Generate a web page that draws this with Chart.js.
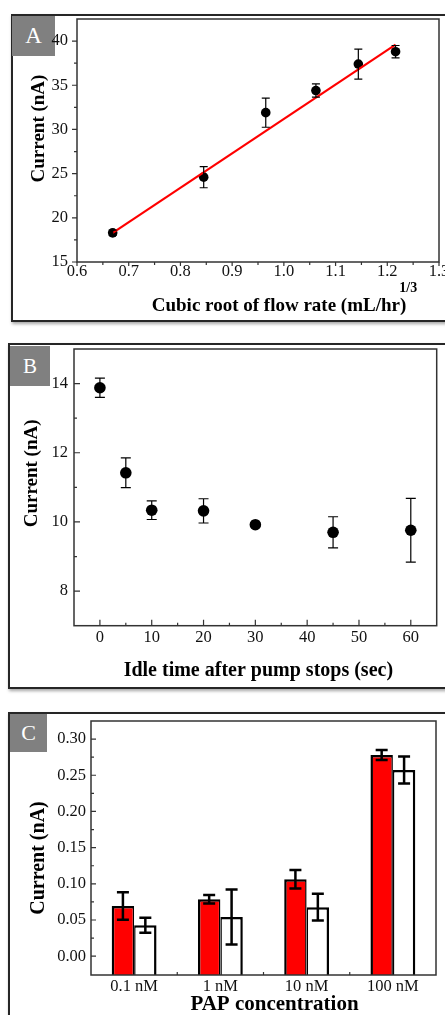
<!DOCTYPE html>
<html><head><meta charset="utf-8">
<script src="https://cdn.jsdelivr.net/npm/chart.js@4.4.1/dist/chart.umd.min.js"></script>
<style>
html,body{margin:0;padding:0;background:#fff;width:445px;height:1015px;overflow:hidden;position:relative;font-family:'Liberation Serif',serif;}
.frame{position:absolute;border:2px solid #262626;box-shadow:1px 2px 3px rgba(0,0,0,0.35);box-sizing:border-box;}
.tag{position:absolute;background:#808080;color:#fff;font-family:'Liberation Serif',serif;display:flex;align-items:center;justify-content:center;}
canvas{position:absolute;left:0;}
</style></head><body>
<div class="frame" style="left:11px;top:14px;width:450px;height:308px"></div>
<div class="frame" style="left:8px;top:343px;width:450px;height:346px"></div>
<div class="frame" style="left:8px;top:712px;width:450px;height:400px"></div>
<div class="tag" style="left:12px;top:16px;width:43px;height:40px;font-size:23px">A</div>
<div class="tag" style="left:10px;top:346px;width:40px;height:40px;font-size:21px">B</div>
<div class="tag" style="left:10px;top:714px;width:37px;height:38px;font-size:22px">C</div>
<canvas id="ca" width="445" height="325" style="top:0px"></canvas>
<canvas id="cb" width="445" height="360" style="top:330px"></canvas>
<canvas id="cc" width="445" height="315" style="top:700px"></canvas>
<script>
// ---------- Panel A data ----------
const flowRoot = [0.669, 0.845, 0.965, 1.062, 1.144, 1.216];
const flowCurrent = [18.3, 24.6, 31.9, 34.4, 37.4, 38.8];
const flowError = [0.3, 1.2, 1.65, 0.75, 1.7, 0.7];
const fitRoot = [0.669, 1.216];
const fitCurrent = [18.3, 39.6];
const flowTicks = [0.6, 0.7, 0.8, 0.9, 1.0, 1.1, 1.2, 1.3];
const flowCurrentTicks = [15, 20, 25, 30, 35, 40];

// ---------- Panel B data ----------
const idleTime = [0, 5, 10, 20, 30, 45, 60];
const idleCurrent = [13.88, 11.42, 10.34, 10.32, 9.92, 9.70, 9.76];
const idleError = [0.28, 0.43, 0.27, 0.35, 0.05, 0.45, 0.92];
const idleTimeTicks = [0, 10, 20, 30, 40, 50, 60];
const idleCurrentTicks = [8, 10, 12, 14];

// ---------- Panel C data ----------
const papLabels = ['0.1 nM', '1 nM', '10 nM', '100 nM'];
const papRed = [0.0695, 0.0787, 0.1063, 0.278];
const papRedError = [0.019, 0.006, 0.0128, 0.007];
const papWhite = [0.0428, 0.0543, 0.0677, 0.2573];
const papWhiteError = [0.0103, 0.038, 0.0185, 0.0185];
const papCurrentTicks = [0, 0.05, 0.10, 0.15, 0.20, 0.25, 0.30];

const SERIF = "'Liberation Serif', 'Times New Roman', serif";
const INK = '#111';

const decor = {
  id: 'decor',
  afterDatasetsDraw(chart, args, o) {
    const ctx = chart.ctx;
    chart.data.datasets.forEach((ds, di) => {
      if (!ds.errors) return;
      const meta = chart.getDatasetMeta(di);
      const ys = chart.scales[meta.yAxisID];
      ctx.save();
      ctx.strokeStyle = '#000';
      ctx.lineWidth = o.errWidth;
      meta.data.forEach((el, i) => {
        const d = ds.data[i];
        const val = (typeof d === 'object') ? d.y : d;
        const e = ds.errors[i];
        if (!e) return;
        const x = el.x, yt = ys.getPixelForValue(val + e), yb = ys.getPixelForValue(val - e);
        ctx.beginPath();
        ctx.moveTo(x, yt); ctx.lineTo(x, yb);
        ctx.moveTo(x - o.cap, yt); ctx.lineTo(x + o.cap, yt);
        ctx.moveTo(x - o.cap, yb); ctx.lineTo(x + o.cap, yb);
        ctx.stroke();
      });
      ctx.restore();
    });
  },
  afterDraw(chart, args, o) {
    const ctx = chart.ctx, a = chart.chartArea;
    ctx.save();
    ctx.strokeStyle = '#333';
    ctx.lineWidth = 1.2;
    o.axes.forEach(cfg => {
      const s = chart.scales[cfg.id];
      const marks = [];
      if (cfg.category) {
        const n = chart.data.labels.length;
        for (let i = 0; i < n - 1; i++) marks.push([(s.getPixelForValue(i) + s.getPixelForValue(i + 1)) / 2, cfg.major]);
      } else {
        const mv = s.ticks.map(t => t.value);
        mv.forEach(v => marks.push([s.getPixelForValue(v), cfg.major]));
        if (cfg.minor) {
          const step = mv[1] - mv[0];
          const cand = [];
          for (let i = 0; i < mv.length - 1; i++) cand.push((mv[i] + mv[i + 1]) / 2);
          cand.push(mv[0] - step / 2, mv[mv.length - 1] + step / 2);
          cand.forEach(v => {
            const p = s.getPixelForValue(v);
            const lo = s.isHorizontal() ? a.left : a.top, hi = s.isHorizontal() ? a.right : a.bottom;
            if (p > lo + 3 && p < hi - 3) marks.push([p, cfg.minor]);
          });
        }
      }
      ctx.beginPath();
      marks.forEach(([p, len]) => {
        if (s.isHorizontal()) {
          const y0 = a.bottom;
          ctx.moveTo(p, y0); ctx.lineTo(p, cfg.dir === 'in' ? y0 - len : y0 + len);
        } else {
          const x0 = a.left;
          ctx.moveTo(x0, p); ctx.lineTo(cfg.dir === 'in' ? x0 + len : x0 - len, p);
        }
      });
      ctx.stroke();
    });
    ctx.lineWidth = 1.5;
    ctx.strokeStyle = '#333';
    ctx.strokeRect(a.left, a.top, a.right - a.left, a.bottom - a.top);
    ctx.fillStyle = '#000';
    const xt = o.xTitle;
    ctx.font = 'bold ' + xt.size + 'px ' + SERIF;
    ctx.textAlign = 'center';
    ctx.textBaseline = 'middle';
    const cx = (a.left + a.right) / 2 + xt.dx;
    ctx.fillText(xt.text, cx, a.bottom + xt.dy);
    if (xt.sup) {
      const w = ctx.measureText(xt.text).width;
      ctx.font = 'bold ' + xt.supSize + 'px ' + SERIF;
      ctx.textAlign = 'left';
      ctx.fillText(xt.sup, cx + w / 2 + xt.supDx, a.bottom + xt.supDy);
    }
    const yt = o.yTitle;
    ctx.font = 'bold ' + yt.size + 'px ' + SERIF;
    ctx.textAlign = 'center';
    ctx.translate(yt.x, (a.top + a.bottom) / 2 + yt.dy);
    ctx.rotate(-Math.PI / 2);
    ctx.fillText(yt.text, 0, 0);
    ctx.restore();
  }
};

function fixedAxis(size, horizontal) {
  return function (s) {
    if (horizontal) s.height = size; else s.width = size;
    s.paddingLeft = 0; s.paddingRight = 0; s.paddingTop = 0; s.paddingBottom = 0;
  };
}
function setTicks(list) {
  return function (s) { s.ticks = list.map(v => ({ value: v })); };
}
const tickFont = { family: SERIF, size: 16.5 };
const base = {
  responsive: false, animation: false, events: [],
  plugins: { legend: { display: false }, tooltip: { enabled: false } }
};

// ---------- Chart A ----------
new Chart(document.getElementById('ca'), {
  type: 'scatter',
  data: {
    datasets: [
      { type: 'line', data: fitRoot.map((x, i) => ({ x, y: fitCurrent[i] })), borderColor: '#ff0000', borderWidth: 2.2, pointRadius: 0, fill: false, tension: 0 },
      { data: flowRoot.map((x, i) => ({ x, y: flowCurrent[i] })), errors: flowError, pointRadius: 4.8, pointBackgroundColor: '#000', pointBorderWidth: 0, showLine: false }
    ]
  },
  options: Object.assign({}, base, {
    layout: { padding: { top: 19, right: 6, left: 0, bottom: 0 } },
    scales: {
      x: {
        type: 'linear', min: 0.6, max: 1.3,
        afterBuildTicks: setTicks(flowTicks), afterFit: fixedAxis(63, true),
        grid: { display: false, drawTicks: false }, border: { display: false },
        ticks: { font: tickFont, color: INK, padding: 0, maxRotation: 0, autoSkip: false, callback: v => Number(v).toFixed(1) }
      },
      y: {
        min: 15, max: 42.5,
        afterBuildTicks: setTicks(flowCurrentTicks), afterFit: fixedAxis(77, false),
        grid: { display: false, drawTicks: false }, border: { display: false },
        ticks: { font: tickFont, color: INK, padding: 9, callback: v => String(v) }
      }
    },
    plugins: Object.assign({}, base.plugins, {
      decor: {
        errWidth: 1.2, cap: 4,
        axes: [{ id: 'x', dir: 'out', major: 4, minor: 3 }, { id: 'y', dir: 'out', major: 5, minor: 3 }],
        xTitle: { text: 'Cubic root of flow rate (mL/hr)', size: 19, dx: 21, dy: 44, sup: '1/3', supSize: 14, supDx: -7, supDy: 26 },
        yTitle: { text: 'Current (nA)', size: 19, x: 39, dy: -12 }
      }
    })
  }),
  plugins: [decor]
});

// ---------- Chart B ----------
new Chart(document.getElementById('cb'), {
  type: 'scatter',
  data: {
    datasets: [
      { data: idleTime.map((x, i) => ({ x, y: idleCurrent[i] })), errors: idleError, pointRadius: 5.8, pointBackgroundColor: '#000', pointBorderWidth: 0, showLine: false }
    ]
  },
  options: Object.assign({}, base, {
    layout: { padding: { top: 19, right: 8.3, left: 0, bottom: 0 } },
    scales: {
      x: {
        type: 'linear', min: -5, max: 65,
        afterBuildTicks: setTicks(idleTimeTicks), afterFit: fixedAxis(64.3, true),
        grid: { display: false, drawTicks: false }, border: { display: false },
        ticks: { font: tickFont, color: INK, padding: 2.5, maxRotation: 0, autoSkip: false, callback: v => String(v) }
      },
      y: {
        min: 7, max: 15,
        afterBuildTicks: setTicks(idleCurrentTicks), afterFit: fixedAxis(74, false),
        grid: { display: false, drawTicks: false }, border: { display: false },
        ticks: { font: tickFont, color: INK, padding: 6, callback: v => String(v) }
      }
    },
    plugins: Object.assign({}, base.plugins, {
      decor: {
        errWidth: 1.2, cap: 5,
        axes: [{ id: 'x', dir: 'in', major: 6, minor: 3 }, { id: 'y', dir: 'in', major: 6, minor: 3 }],
        xTitle: { text: 'Idle time after pump stops (sec)', size: 20, dx: 3, dy: 45 },
        yTitle: { text: 'Current (nA)', size: 19, x: 32, dy: -14 }
      }
    })
  }),
  plugins: [decor]
});

// ---------- Chart C ----------
const cMin = -0.026, cMax = 0.325;
new Chart(document.getElementById('cc'), {
  type: 'bar',
  data: {
    labels: papLabels,
    datasets: [
      { data: papRed, errors: papRedError, backgroundColor: '#ff0000', borderColor: '#000', borderWidth: { left: 2.5, top: 2.5, right: 1.5, bottom: 0 }, base: cMin, categoryPercentage: 0.52, barPercentage: 1 },
      { data: papWhite, errors: papWhiteError, backgroundColor: '#ffffff', borderColor: '#000', borderWidth: { left: 1.5, top: 2.5, right: 2.5, bottom: 0 }, base: cMin, categoryPercentage: 0.52, barPercentage: 1 }
    ]
  },
  options: Object.assign({}, base, {
    layout: { padding: { top: 21, right: 9, left: 0, bottom: 0 } },
    scales: {
      x: {
        afterFit: fixedAxis(40, true),
        grid: { display: false, drawTicks: false }, border: { display: false },
        ticks: { font: tickFont, color: INK, padding: 2, maxRotation: 0, autoSkip: false }
      },
      y: {
        min: cMin, max: cMax,
        afterBuildTicks: setTicks(papCurrentTicks), afterFit: fixedAxis(91, false),
        grid: { display: false, drawTicks: false }, border: { display: false },
        ticks: { font: tickFont, color: INK, padding: 5, callback: v => Number(v).toFixed(2) }
      }
    },
    plugins: Object.assign({}, base.plugins, {
      decor: {
        errWidth: 2.5, cap: 6,
        axes: [{ id: 'x', category: true, dir: 'in', major: 3 }, { id: 'y', dir: 'in', major: 5, minor: 3 }],
        xTitle: { text: 'PAP concentration', size: 21, dx: 11, dy: 30 },
        yTitle: { text: 'Current (nA)', size: 20, x: 39, dy: 10 }
      }
    })
  }),
  plugins: [decor]
});
</script>
</body></html>
